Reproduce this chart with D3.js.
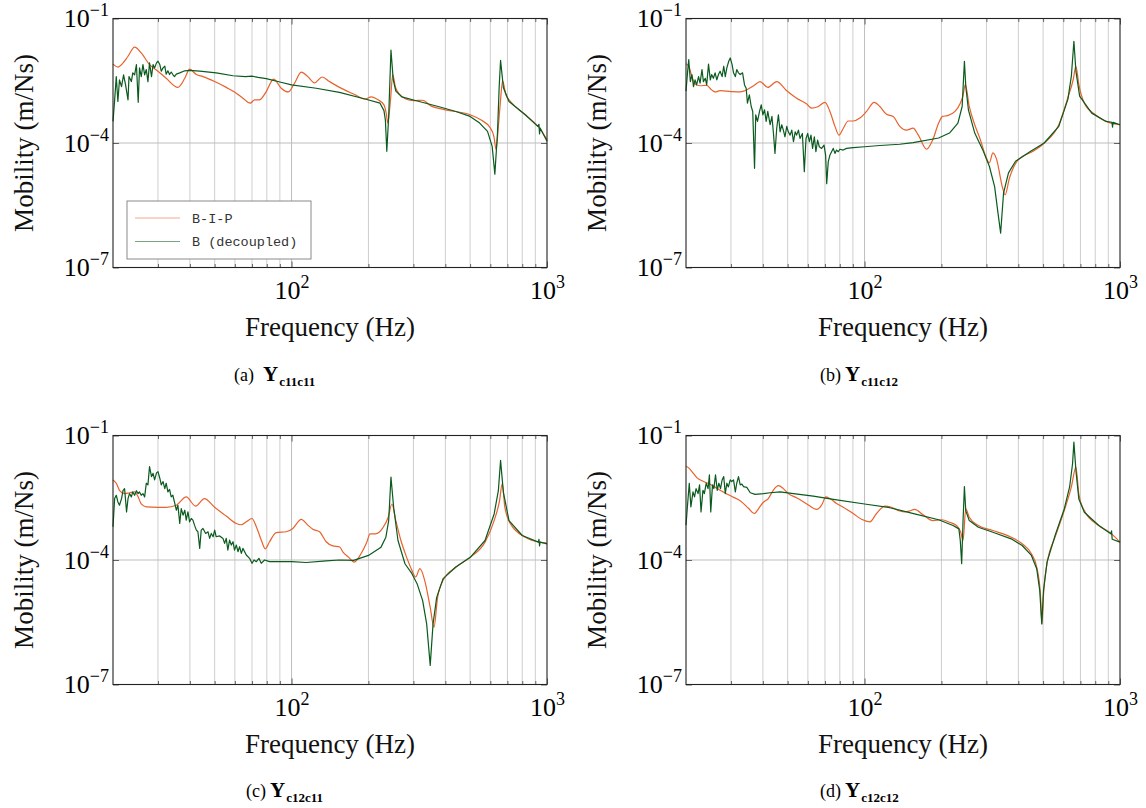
<!DOCTYPE html>
<html><head><meta charset="utf-8">
<script src="https://cdn.jsdelivr.net/npm/d3@7"></script>
<style>
body{margin:0;background:#fff}
svg text{font-family:"Liberation Serif","Times New Roman",serif;}
svg text.mono{font-family:"Liberation Mono","Courier New",monospace;}
</style>
</head><body>
<svg id="chart" width="1146" height="808"></svg>
<script>
// ---------- data (frequency in Hz, log10 of mobility in m/Ns) ----------
const xMajorTicks = [100, 1000];
const xMinorTicks = [30,40,50,60,70,80,90,200,300,400,500,600,700,800,900];
const yMajorTicks = [1e-7, 1e-4, 1e-1];
const seriesNames = ["B-I-P", "B (decoupled)"];
const captionLetters = ["(a)", "(b)", "(c)", "(d)"];
const captionSubs = ["c11c11", "c11c12", "c12c11", "c12c12"];

const aBip = [[20,-2.10],[20.9,-2.17],[21.9,-2.07],[22.9,-1.91],[24.3,-1.69],[25.8,-1.83],[27.8,-2.11],[30,-2.27],[32.3,-2.44],[35.9,-2.66],[38.2,-2.44],[39.9,-2.22],[42.4,-2.35],[45,-2.40],[50,-2.52],[55.5,-2.66],[59.8,-2.77],[64.5,-2.92],[68.9,-3.04],[71.7,-2.96],[75,-2.96],[79.6,-2.76],[85.1,-2.46],[91.1,-2.68],[97.1,-2.77],[102.7,-2.56],[109.1,-2.29],[115.8,-2.40],[123,-2.55],[131.8,-2.41],[140.8,-2.52],[154,-2.66],[175,-2.82],[194,-2.94],[205,-2.89],[218,-2.96],[230,-3.08],[235,-3.30],[238,-3.52],[241,-3.30],[244,-2.96],[249,-2.35],[255,-2.65],[265,-2.83],[280,-2.94],[300,-2.98],[326,-2.97],[350,-3.10],[400,-3.20],[500,-3.32],[550,-3.44],[600,-3.64],[620,-3.85],[632,-4.16],[645,-3.60],[658,-2.96],[670,-2.50],[690,-2.83],[720,-3.00],[822,-3.32],[935,-3.64],[1000,-3.92]];

const aDec = [[20,-3.48],[20.3,-2.96],[20.6,-2.40],[20.9,-3.00],[21.2,-2.48],[21.6,-2.64],[22.0,-2.36],[22.4,-2.60],[22.9,-2.96],[23.1,-2.40],[23.6,-2.52],[23.9,-2.31],[24.3,-2.36],[24.7,-2.11],[25.1,-3.02],[25.4,-2.19],[25.8,-2.40],[26.2,-2.11],[26.6,-2.36],[27.0,-2.23],[27.4,-2.52],[27.8,-2.07],[28.3,-2.40],[28.7,-2.11],[29.1,-2.19],[29.6,-2.07],[30.0,-2.03],[30.5,-2.11],[30.9,-2.27],[31.4,-2.19],[31.9,-2.15],[32.3,-2.34],[32.8,-2.26],[33.3,-2.35],[33.8,-2.29],[34.3,-2.35],[34.8,-2.40],[35.4,-2.34],[36.5,-2.31],[38.2,-2.26],[39.9,-2.25],[43.7,-2.27],[50.7,-2.31],[59.0,-2.38],[66,-2.40],[70.0,-2.39],[74,-2.42],[79.6,-2.45],[90,-2.53],[100,-2.60],[124.9,-2.68],[154,-2.78],[194,-2.94],[222,-3.04],[230,-3.22],[233,-3.45],[236,-4.20],[240,-3.36],[245,-1.76],[250,-2.47],[256,-2.75],[270,-2.89],[316,-3.00],[375,-3.12],[440,-3.24],[500,-3.36],[545,-3.52],[585,-3.72],[610,-4.08],[625,-4.75],[640,-3.76],[650,-2.63],[658,-2.01],[675,-2.67],[710,-3.00],[822,-3.32],[920,-3.60],[930,-3.55],[935,-3.78],[940,-3.64],[1000,-3.96]];

const bBip = [[20,-2.09],[20.5,-2.15],[21.1,-2.40],[21.7,-2.58],[22.7,-2.62],[24.1,-2.61],[25.2,-2.72],[26.0,-2.77],[27.2,-2.74],[30,-2.76],[32.6,-2.77],[34.0,-2.74],[36.8,-2.62],[39.0,-2.52],[41.8,-2.66],[45.3,-2.52],[49.6,-2.74],[54.2,-2.92],[59.4,-3.06],[62.1,-3.16],[65.9,-3.12],[70.0,-3.02],[73.2,-3.24],[76.6,-3.60],[79.4,-3.81],[82.5,-3.65],[86.3,-3.47],[90.3,-3.47],[95.9,-3.40],[101.8,-3.24],[109.1,-3.02],[114.8,-3.12],[121.9,-3.31],[129.4,-3.36],[137.4,-3.60],[145.9,-3.69],[155,-3.64],[162,-3.80],[175,-4.15],[185,-3.92],[195,-3.52],[202,-3.36],[211,-3.34],[226,-3.24],[237,-3.04],[243,-2.85],[248,-2.59],[257,-3.12],[270,-3.56],[284,-3.92],[298,-4.32],[308,-4.48],[318,-4.24],[329,-4.40],[346,-5.05],[355,-5.25],[369,-4.85],[400,-4.40],[457,-4.20],[505,-4.00],[576,-3.56],[625,-2.91],[656,-2.47],[672,-2.15],[690,-2.59],[725,-3.04],[800,-3.32],[882,-3.48],[1000,-3.56]];

const bDec = [[20,-2.75],[20.3,-2.27],[20.5,-1.99],[20.8,-2.52],[21.1,-2.35],[21.4,-2.64],[21.7,-2.48],[22.0,-2.60],[22.4,-2.40],[22.7,-2.56],[23.1,-2.23],[23.4,-2.52],[23.8,-2.44],[24.1,-2.60],[24.5,-2.10],[24.9,-2.48],[25.2,-2.35],[25.6,-2.44],[26.0,-2.31],[26.4,-2.48],[26.8,-2.35],[27.2,-2.27],[27.7,-2.40],[28.1,-2.15],[28.5,-2.40],[28.9,-2.19],[29.4,-2.03],[29.8,-1.95],[30.3,-2.11],[30.7,-2.31],[31.2,-2.40],[31.6,-2.23],[32.1,-2.31],[32.6,-2.35],[33.3,-2.31],[33.9,-2.60],[34.4,-2.68],[34.8,-3.04],[35.4,-2.84],[36.0,-3.12],[36.5,-3.24],[37.1,-4.61],[37.5,-3.32],[38.1,-3.48],[38.8,-3.24],[39.4,-3.08],[40.0,-3.32],[40.6,-3.20],[41.2,-3.48],[41.8,-3.24],[42.7,-3.56],[43.4,-3.36],[44.0,-3.77],[44.6,-4.25],[45.3,-3.65],[46.0,-3.32],[46.7,-3.73],[47.4,-3.56],[48.1,-3.69],[48.8,-3.85],[49.6,-3.60],[50.3,-3.73],[51.1,-3.81],[51.9,-3.69],[52.7,-3.97],[53.5,-3.73],[54.2,-3.81],[55.1,-3.69],[55.9,-3.89],[57.1,-3.77],[58.1,-4.69],[59.0,-3.89],[59.9,-3.77],[60.8,-3.97],[61.7,-3.81],[62.6,-4.13],[63.6,-3.85],[64.5,-4.21],[65.5,-3.93],[66.5,-4.09],[67.9,-4.13],[69.4,-4.05],[70.4,-4.29],[71.1,-4.98],[72.1,-4.45],[73.2,-4.29],[74.3,-4.21],[75.4,-4.13],[76.6,-4.25],[77.7,-4.17],[78.9,-4.21],[80.1,-4.15],[82.5,-4.17],[85.0,-4.13],[90.3,-4.11],[100,-4.09],[114.8,-4.06],[137.4,-4.03],[155,-3.99],[195,-3.88],[215,-3.76],[232,-3.52],[241,-3.12],[246,-2.03],[249,-2.63],[255,-3.20],[270,-3.76],[290,-4.16],[308,-4.56],[323,-5.05],[333,-5.69],[341,-6.17],[350,-5.21],[366,-4.72],[390,-4.44],[447,-4.20],[505,-4.00],[576,-3.60],[625,-2.95],[645,-2.39],[660,-1.55],[672,-2.27],[695,-2.87],[775,-3.28],[882,-3.48],[930,-3.50],[935,-3.62],[940,-3.50],[1000,-3.56]];

const cBip = [[20,-2.07],[20.6,-2.15],[21.2,-2.32],[22.2,-2.40],[23.2,-2.38],[24.3,-2.36],[25.1,-2.48],[25.8,-2.65],[27.0,-2.72],[30,-2.73],[32.3,-2.73],[35.4,-2.68],[38.7,-2.48],[42.1,-2.70],[45.6,-2.52],[50,-2.73],[55.5,-2.94],[60.8,-3.12],[63.5,-3.15],[66.5,-3.08],[70,-3.00],[72.8,-3.20],[76.1,-3.52],[78.9,-3.73],[82,-3.56],[87.1,-3.34],[95.3,-3.32],[101.2,-3.24],[109.1,-3.02],[115.8,-3.16],[121.2,-3.26],[128.7,-3.32],[136.6,-3.56],[145,-3.66],[154,-3.68],[159,-3.81],[167,-3.93],[176,-4.05],[187,-3.85],[197,-3.57],[203,-3.37],[213,-3.37],[228,-3.22],[239,-2.97],[247,-2.65],[256,-3.05],[268,-3.53],[282,-3.93],[296,-4.25],[306,-4.41],[318,-4.21],[332,-4.49],[349,-5.14],[361,-5.62],[373,-4.90],[392,-4.49],[440,-4.17],[502,-3.93],[572,-3.57],[621,-3.05],[652,-2.57],[668,-2.16],[684,-2.73],[720,-3.13],[822,-3.45],[936,-3.57],[1000,-3.59]];

const cDec = [[20,-3.20],[20.3,-2.52],[20.6,-2.44],[20.9,-2.60],[21.2,-2.68],[21.6,-2.52],[21.9,-2.32],[22.2,-2.28],[22.6,-2.84],[22.9,-2.52],[23.2,-2.40],[23.6,-2.48],[23.9,-2.36],[24.3,-2.44],[24.7,-2.33],[25.1,-2.40],[25.4,-2.36],[25.8,-2.44],[26.2,-2.40],[26.6,-2.48],[27.0,-2.15],[27.4,-2.19],[27.8,-1.75],[28.3,-1.99],[28.7,-1.91],[29.1,-2.07],[29.6,-1.90],[30.0,-1.87],[30.5,-2.03],[30.9,-2.19],[31.4,-2.11],[31.9,-2.28],[32.3,-2.15],[32.8,-2.36],[33.3,-2.30],[33.8,-2.48],[34.3,-2.44],[34.8,-2.60],[35.4,-2.80],[35.9,-2.68],[36.5,-3.12],[37.0,-2.76],[37.6,-2.92],[38.2,-2.80],[38.7,-3.04],[39.3,-2.84],[39.9,-3.08],[40.5,-3.00],[41.1,-3.04],[41.7,-3.16],[42.4,-3.28],[43.0,-3.32],[43.7,-3.72],[44.3,-3.28],[45.0,-3.24],[46.1,-3.36],[47.1,-3.32],[47.8,-3.48],[48.5,-3.36],[49.3,-3.44],[50.0,-3.28],[50.7,-3.44],[52.3,-3.42],[53.9,-3.48],[54.7,-3.60],[55.5,-3.48],[56.3,-3.76],[57.2,-3.52],[58.1,-3.64],[59.0,-3.56],[59.8,-3.76],[60.8,-3.64],[61.7,-3.80],[62.6,-3.68],[63.6,-3.84],[64.5,-3.72],[66.5,-3.88],[68.5,-3.96],[70.0,-4.08],[71.3,-4.00],[72.8,-4.04],[74.5,-3.96],[76.1,-4.08],[78.4,-4.00],[82.0,-4.04],[89.8,-4.04],[100,-4.04],[114.1,-4.06],[136.6,-4.02],[154,-4.00],[175,-4.01],[200,-3.89],[224,-3.69],[234,-3.45],[240,-3.05],[245,-2.00],[251,-2.73],[261,-3.53],[278,-4.09],[296,-4.33],[310,-4.57],[326,-4.98],[338,-5.54],[349,-6.54],[358,-5.54],[370,-4.90],[392,-4.45],[440,-4.17],[502,-3.93],[572,-3.53],[621,-2.89],[645,-2.33],[658,-1.60],[675,-2.37],[710,-3.05],[800,-3.41],[925,-3.57],[930,-3.50],[935,-3.66],[940,-3.57],[1000,-3.61]];

const dBip = [[20,-1.74],[20.5,-1.78],[21.1,-1.87],[22.1,-2.02],[23.1,-2.09],[24.1,-2.14],[25.6,-2.22],[27.2,-2.32],[30,-2.46],[32.6,-2.57],[35.2,-2.76],[37.0,-2.88],[38.5,-2.76],[40,-2.62],[42,-2.52],[43.9,-2.32],[46,-2.21],[48.1,-2.28],[50.3,-2.40],[54.2,-2.50],[59.4,-2.65],[65,-2.78],[67.9,-2.68],[70.6,-2.48],[73.2,-2.52],[77.7,-2.64],[82.5,-2.73],[90.3,-2.88],[97.3,-3.02],[104.9,-3.08],[111.4,-2.88],[120.1,-2.70],[127.5,-2.73],[137.4,-2.82],[143.7,-2.84],[150,-2.82],[157,-2.78],[171,-2.93],[185,-3.05],[201,-3.03],[215,-3.09],[229,-3.17],[238,-3.33],[243,-3.53],[249,-2.77],[257,-2.97],[279,-3.17],[318,-3.29],[375,-3.45],[414,-3.61],[450,-3.85],[472,-4.17],[488,-4.82],[495,-5.54],[502,-4.82],[518,-4.09],[557,-3.45],[605,-2.81],[645,-2.24],[672,-1.76],[690,-2.41],[725,-2.81],[826,-3.17],[927,-3.37],[1000,-3.57]];

const dDec = [[20,-3.16],[20.3,-2.64],[20.6,-2.15],[20.9,-2.72],[21.3,-2.36],[21.6,-2.48],[21.9,-2.28],[22.3,-2.40],[22.6,-2.19],[22.9,-2.84],[23.3,-2.32],[23.6,-2.40],[24.0,-2.15],[24.4,-2.28],[24.7,-1.95],[25.0,-2.84],[25.4,-2.19],[25.7,-2.28],[26.1,-1.95],[26.5,-2.32],[26.9,-2.15],[27.3,-2.28],[27.7,-2.07],[28.1,-1.99],[28.5,-2.40],[28.9,-2.15],[29.3,-2.24],[29.8,-2.07],[30.2,-2.11],[30.7,-2.07],[31.2,-2.36],[31.6,-2.15],[32.1,-1.99],[32.6,-2.19],[33.1,-2.17],[33.6,-2.23],[34.6,-2.25],[35.7,-2.38],[37.3,-2.42],[40.2,-2.40],[42.7,-2.38],[46.7,-2.36],[52.7,-2.40],[63,-2.46],[75.5,-2.54],[100,-2.65],[125.6,-2.74],[157,-2.89],[195,-3.03],[222,-3.17],[234,-3.25],[237,-3.53],[240,-4.09],[243,-3.05],[246,-2.23],[249,-2.81],[257,-3.05],[279,-3.21],[318,-3.33],[375,-3.49],[414,-3.65],[450,-3.89],[472,-4.21],[485,-4.73],[494,-5.54],[502,-4.73],[518,-4.05],[557,-3.41],[605,-2.77],[635,-2.24],[652,-1.68],[660,-1.16],[672,-1.84],[690,-2.53],[725,-2.85],[826,-3.17],[920,-3.37],[927,-3.30],[932,-3.50],[1000,-3.57]];

const bipSeries = [aBip, bBip, cBip, dBip];
const decSeries = [aDec, bDec, cDec, dDec];

// ---------- layout ----------
const W = 434, H = 249;
const origins = [[113,18.5],[686,18.5],[113,435.5],[686,435.5]];
const captionPos = [[234,381],[820,381],[246,797],[820,797]];
const colBip = "#e8622c", colDec = "#0b5a1e";

const svg = d3.select("#chart");

function supLabel(sel, base, exp) {
  sel.text(null);
  sel.append("tspan").text(base);
  sel.append("tspan").attr("dy", -11).style("font-size", "18px").text(exp);
}

origins.forEach(([ox, oy], i) => {
  const g = svg.append("g").attr("transform", `translate(${ox},${oy})`);
  const x = d3.scaleLog().domain([20, 1000]).range([0, W]);
  const y = d3.scaleLog().domain([1e-7, 1e-1]).range([H, 0]);

  // grid
  g.append("g").selectAll("line").data(xMinorTicks).join("line")
    .attr("x1", d => x(d)).attr("x2", d => x(d)).attr("y1", 0).attr("y2", H)
    .attr("stroke", "#c8c8c8").attr("stroke-width", 0.9);
  g.append("g").selectAll("line").data([100]).join("line")
    .attr("x1", d => x(d)).attr("x2", d => x(d)).attr("y1", 0).attr("y2", H)
    .attr("stroke", "#bdbdbd").attr("stroke-width", 1);
  g.append("g").selectAll("line").data([1e-4]).join("line")
    .attr("x1", 0).attr("x2", W).attr("y1", d => y(d)).attr("y2", d => y(d))
    .attr("stroke", "#bdbdbd").attr("stroke-width", 1);

  // axes (ticks inward)
  const styleAxis = a => {
    a.select(".domain").remove();
    a.selectAll(".tick line").attr("stroke", "#444").attr("stroke-width", 0.8);
    a.attr("font-family", null).attr("font-size", null);
    a.selectAll(".tick text").style("font-size", "26px").attr("fill", "#000");
  };
  g.append("g").attr("transform", `translate(0,${H})`)
    .call(d3.axisBottom(x).tickValues(xMinorTicks).tickSize(-3.5).tickFormat("")).call(styleAxis);
  g.append("g").call(d3.axisTop(x).tickValues(xMinorTicks).tickSize(-3.5).tickFormat("")).call(styleAxis);
  g.append("g").call(d3.axisTop(x).tickValues(xMajorTicks).tickSize(-6).tickFormat("")).call(styleAxis);
  const xb = g.append("g").attr("transform", `translate(0,${H})`)
    .call(d3.axisBottom(x).tickValues(xMajorTicks).tickSizeInner(-6).tickSizeOuter(0).tickPadding(13)).call(styleAxis);
  xb.selectAll(".tick text").each(function(d) { supLabel(d3.select(this), "10", String(Math.round(Math.log10(d)))); });
  const yl = g.append("g")
    .call(d3.axisLeft(y).tickValues(yMajorTicks).tickSizeInner(-6).tickSizeOuter(0).tickPadding(4)).call(styleAxis);
  yl.selectAll(".tick text").each(function(d) { supLabel(d3.select(this), "10", "\u2212" + Math.round(-Math.log10(d))); });
  g.append("g").attr("transform", `translate(${W},0)`)
    .call(d3.axisRight(y).tickValues(yMajorTicks).tickSize(-6).tickFormat("")).call(styleAxis);

  // curves
  const lineBip = d3.line().x(d => x(d[0])).y(d => y(Math.pow(10, d[1]))).curve(d3.curveMonotoneX);
  const lineDec = d3.line().x(d => x(d[0])).y(d => y(Math.pow(10, d[1])));
  g.append("path").datum(bipSeries[i]).attr("d", lineBip).attr("fill", "none")
    .attr("stroke", colBip).attr("stroke-width", 1.2).attr("stroke-linejoin", "round");
  g.append("path").datum(decSeries[i]).attr("d", lineDec).attr("fill", "none")
    .attr("stroke", colDec).attr("stroke-width", 1.2).attr("stroke-linejoin", "round");

  // frame
  g.append("rect").attr("x", 0).attr("y", 0).attr("width", W).attr("height", H)
    .attr("fill", "none").attr("stroke", "#222").attr("stroke-width", 1.1);

  // axis labels
  g.append("text").attr("transform", `translate(-80,${H/2}) rotate(-90)`)
    .attr("text-anchor", "middle").style("font-size", "27px").attr("fill", "#111").text("Mobility (m/Ns)");
  g.append("text").attr("x", W/2).attr("y", H + 68)
    .attr("text-anchor", "middle").style("font-size", "27px").attr("fill", "#111").text("Frequency (Hz)");

  // legend (panel a only)
  if (i === 0) {
    const lg = g.append("g").attr("transform", "translate(14,182.5)");
    lg.append("rect").attr("width", 184).attr("height", 58).attr("fill", "#fff")
      .attr("stroke", "#8a8a8a").attr("stroke-width", 1);
    [colBip, colDec].forEach((c, k) => {
      const yy = 17 + k * 23.5;
      lg.append("line").attr("x1", 8).attr("x2", 53).attr("y1", yy).attr("y2", yy)
        .attr("stroke", c).attr("stroke-width", 1.2).attr("stroke-opacity", 0.55);
      lg.append("text").attr("class", "mono").attr("x", 65).attr("y", yy + 4.5)
        .style("font-size", "13.5px").attr("fill", "#333").text(seriesNames[k]);
    });
  }
});

// captions
captionPos.forEach(([cx, cy], i) => {
  const t = svg.append("text").attr("x", cx).attr("y", cy)
    .style("font-size", "18px").attr("fill", "#000");
  t.append("tspan").text(captionLetters[i]);
  t.append("tspan").attr("dx", i === 0 ? 9 : 4).attr("font-weight", "bold").style("font-size", "21px").text("Y");
  t.append("tspan").attr("dy", 5).attr("dx", 1).attr("font-weight", "bold").style("font-size", "13px").text(captionSubs[i]);
});
</script>
</body></html>
